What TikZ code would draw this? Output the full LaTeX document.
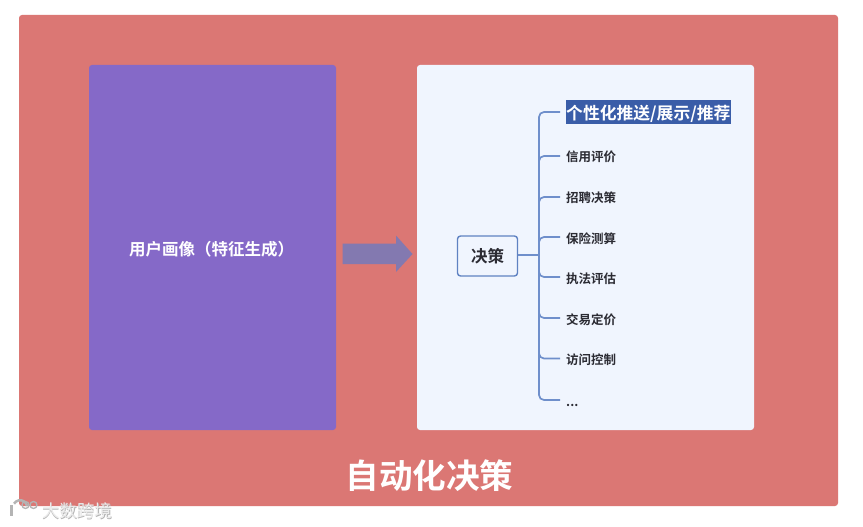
\documentclass[tikz,border=0pt]{standalone}
\usepackage{fontspec}
\setmainfont{Noto Sans CJK SC}[BoldFont={* Bold}]
\definecolor{bgred}{HTML}{DB7774}
\definecolor{purp}{HTML}{8569C8}
\definecolor{panel}{HTML}{F0F5FE}
\definecolor{linkc}{HTML}{6F8FCB}
\definecolor{rootc}{HTML}{5F82C2}
\definecolor{arrowc}{HTML}{8379B0}
\definecolor{hl}{HTML}{3A5DA8}
\definecolor{ink}{HTML}{2B2B33}
\definecolor{wmshade}{HTML}{B4B4B4}
\definecolor{wmlight}{HTML}{ECECEC}
\tikzset{
 x=1pt,y=-1pt,
 leaflabel/.style={anchor=west,inner sep=0pt,font=\fontsize{12.5}{14}\selectfont\bfseries,text=ink},
 branch/.style={draw=linkc,line width=1.7pt,rounded corners=5pt},
 wmtxt/.style={anchor=west,inner sep=0pt,font=\fontsize{17.5}{19}\selectfont},
 wmlogo/.style={line width=1.3pt}
}
\begin{document}
\begin{tikzpicture}
\useasboundingbox (0,0) rectangle (863,527);
\fill[white] (0,0) rectangle (863,527);
\fill[bgred,rounded corners=3pt] (19,15) rectangle (838,506);
\fill[purp,rounded corners=3pt] (89,65) rectangle (336,430);
\fill[panel,rounded corners=3pt] (417,65) rectangle (754,430);
\node[font=\fontsize{16.5}{18}\selectfont\bfseries,text=white] (profile) at (211.5,249) {用户画像（特征生成）};
\node[font=\fontsize{33.6}{36}\selectfont\bfseries,text=white] (title) at (429.5,476) {自动化决策};
\fill[arrowc] (342.5,243.5) -- (396,243.5) -- (396,235.5) -- (412.5,254) -- (396,272) -- (396,264) -- (342.5,264) -- cycle;
\node[draw=rootc,line width=1.4pt,fill=panel,rounded corners=3pt,minimum width=60pt,minimum height=40pt,inner sep=0pt,font=\fontsize{16.5}{18}\selectfont\bfseries,text=ink] (root) at (487.5,256) {决策};
\coordinate (t1) at (560,112);
\coordinate (t2) at (560,156);
\coordinate (t3) at (560,197);
\coordinate (t4) at (560,237);
\coordinate (t5) at (560,277);
\coordinate (t6) at (560,318);
\coordinate (t7) at (560,358.5);
\coordinate (t8) at (560,400);
\coordinate (j) at (539,255);
\draw[draw=linkc,line width=1.7pt] (root.east |- j) -- (j);
\foreach \i in {1,...,8}{\draw[branch] (j) -- (j |- t\i) -- (t\i);}
\node[anchor=west,inner sep=0pt,fill=hl,minimum height=24pt,minimum width=164.5pt] (n1bg) at (566,112) {};
\node[anchor=west,inner sep=0pt,text=white,font=\fontsize{16.8}{18}\selectfont\bfseries] (n1) at (566,114) {个性化推送/展示/推荐};
\node[leaflabel] (n2) at (566,157) {信用评价};
\node[leaflabel] (n3) at (566,198) {招聘决策};
\node[leaflabel] (n4) at (566,238.5) {保险测算};
\node[leaflabel] (n5) at (566,279) {执法评估};
\node[leaflabel] (n6) at (566,319.5) {交易定价};
\node[leaflabel] (n7) at (566,360) {访问控制};
\node[leaflabel] (n8) at (566,405) {...};
% watermark
\begin{scope}[draw=wmshade]
\draw[wmlogo,line width=3pt] (11,505) -- (11,516);
\draw[wmlogo,line width=2.5pt] (27,506) arc (-10:-150:7);
\draw[wmlogo] (25.5,505) circle (3.5);
\draw[wmlogo] (33.5,505) circle (3.5);
\end{scope}
\node[wmtxt,text=wmshade] (wmshadow) at (42.5,511.5) {大数跨境};
\node[wmtxt,text=wmlight] (wmtext) at (42,511) {大数跨境};
\end{tikzpicture}
\end{document}
